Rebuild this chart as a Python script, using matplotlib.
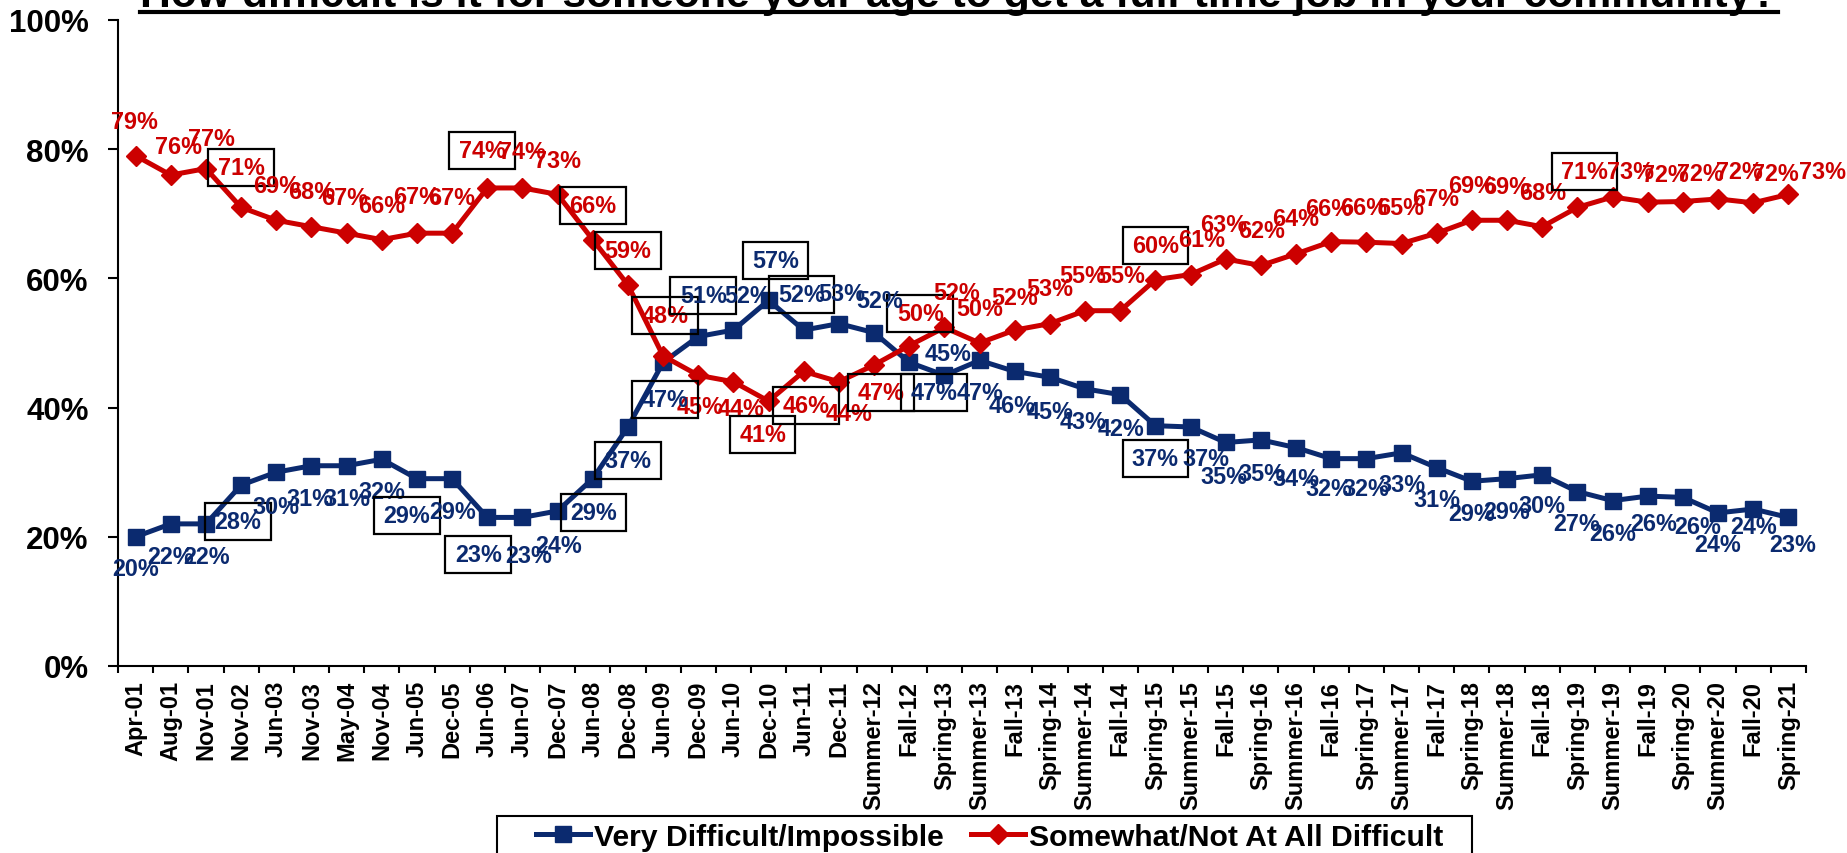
import numpy as np
import matplotlib
matplotlib.use("Agg")
import matplotlib.pyplot as plt
from matplotlib.lines import Line2D
from matplotlib.patches import Rectangle

# ---------------- data ----------------
categories = ["Apr-01", "Aug-01", "Nov-01", "Nov-02", "Jun-03", "Nov-03", "May-04", "Nov-04",
              "Jun-05", "Dec-05", "Jun-06", "Jun-07", "Dec-07", "Jun-08", "Dec-08", "Jun-09",
              "Dec-09", "Jun-10", "Dec-10", "Jun-11", "Dec-11", "Summer-12", "Fall-12", "Spring-13",
              "Summer-13", "Fall-13", "Spring-14", "Summer-14", "Fall-14", "Spring-15", "Summer-15",
              "Fall-15", "Spring-16", "Summer-16", "Fall-16", "Spring-17", "Summer-17", "Fall-17",
              "Spring-18", "Summer-18", "Fall-18", "Spring-19", "Summer-19", "Fall-19", "Spring-20",
              "Summer-20", "Fall-20", "Spring-21"]

very_difficult = [20, 22, 22, 28, 30, 31, 31, 32, 29, 29, 23, 23, 24, 29, 37, 47,
                  51, 52, 56.6, 52, 53, 51.6, 47, 45, 47.3, 45.6, 44.7, 42.9, 42, 37.2, 37,
                  34.6, 35, 33.8, 32.1, 32.1, 33, 30.7, 28.6, 29, 29.6, 27, 25.6, 26.3, 26.1,
                  23.7, 24.3, 23]

somewhat_not = [79, 76, 77, 71, 69, 68, 67, 66, 67, 67, 74, 74, 73, 66, 59, 48,
                45, 44, 41, 45.6, 44, 46.6, 49.6, 52.4, 50, 52, 53, 55, 55, 59.8, 60.6,
                63, 62, 63.8, 65.7, 65.6, 65.4, 67, 69, 69, 68, 71, 72.6, 71.8, 71.9,
                72.3, 71.7, 73]

series_names = ["Very Difficult/Impossible", "Somewhat/Not At All Difficult"]
title_text = "How difficult is it for someone your age to get a full-time job in your community?"
y_ticks = [0, 20, 40, 60, 80, 100]

# ---------------- label styling (offsets in pixels: dx right, dy down) ----------------
red_offsets = [(-1, -34), (8, -29), (6, -30), (0, -40), (0, -35), (0, -35), (-2, -36), (0, -34),
               (0, -37), (0, -36), (-5, -37), (0, -36), (0, -34), (0, -34), (0, -34), (2, -40),
               (2, 31), (8, 27), (-6, 33), (2, 34), (10, 32), (7, 28), (11, -32), (12, -35),
               (0, -34), (0, -33), (0, -35), (-2, -35), (1, -35), (0, -34), (11, -35), (-2, -35),
               (1, -35), (0, -35), (-3, -33), (-3, -35), (-1, -36), (-1, -35), (0, -35), (0, -34),
               (0, -34), (7, -36), (18, -26), (18, -28), (17, -28), (21, -27), (22, -29), (34, -23)]
blue_offsets = [(0, 32), (0, 33), (1, 33), (-3, 36), (0, 34), (-1, 33), (0, 33), (0, 32),
                (-10, 37), (1, 33), (-9, 37), (6, 38), (1, 35), (1, 34), (0, 34), (2, 37),
                (5, -41), (14, -35), (7, -40), (-2, -36), (3, -30), (6, -32), (25, 30), (4, -22),
                (0, 32), (-3, 34), (0, 34), (-2, 33), (1, 34), (0, 33), (15, 32), (-2, 34),
                (1, 34), (0, 31), (-2, 30), (-1, 30), (0, 32), (0, 32), (0, 32), (0, 33),
                (0, 31), (-1, 32), (0, 33), (6, 27), (15, 29), (0, 32), (0, 17), (4, 27)]
red_boxed = {3, 10, 13, 14, 15, 18, 19, 21, 22, 29, 41}
blue_boxed = {3, 8, 10, 13, 14, 15, 16, 18, 19, 22, 29}

BLUE = "#0b2a6f"
RED = "#cc0000"

W, H = 1847, 854
plt.rcParams["font.family"] = ["Liberation Sans", "DejaVu Sans"]
plt.rcParams["font.weight"] = "bold"

fig = plt.figure(figsize=(W / 100, H / 100), dpi=100)
ax = fig.add_axes([118 / W, 1 - 667 / H, (1806 - 118) / W, (667 - 21) / H])

x = np.arange(len(categories))
ax.plot(x, very_difficult, color=BLUE, lw=3.6, marker="s", ms=11, zorder=3)
ax.plot(x, somewhat_not, color=RED, lw=3.6, marker="D", ms=10, zorder=4)

ax.set_xlim(-0.5, len(categories) - 0.5)
ax.set_ylim(0, 100)

for s in ["top", "right"]:
    ax.spines[s].set_visible(False)
for s in ["left", "bottom"]:
    ax.spines[s].set_linewidth(1.5)
    ax.spines[s].set_color("black")

ax.set_yticks(y_ticks)
ax.set_yticklabels([f"{t}%" for t in y_ticks])
ax.tick_params(axis="y", length=7.2, width=1.5, pad=14, labelsize=22.5)

ax.set_xticks(x)
ax.set_xticklabels(categories, rotation=90, fontsize=17)
ax.tick_params(axis="x", which="major", length=0, pad=10)
ax.set_xticks(np.arange(-0.5, len(categories), 1), minor=True)
ax.tick_params(axis="x", which="minor", length=5, width=1.5, direction="out")


def label_series(vals, offsets, boxed, color):
    for i, v in enumerate(vals):
        dx, dy = offsets[i]
        bbox = None
        if i in boxed:
            bbox = dict(boxstyle="square,pad=0.4", mutation_aspect=0.75,
                        fc="none", ec="black", lw=1.6)
        ax.annotate(f"{v:.0f}%", (i, v), xytext=(dx, -dy), textcoords="offset pixels",
                    ha="center", va="center", fontsize=16.8, fontweight="bold",
                    color=color, bbox=bbox, zorder=6, annotation_clip=False)


label_series(somewhat_not, red_offsets, red_boxed, RED)
label_series(very_difficult, blue_offsets, blue_boxed, BLUE)

# ---------------- title (clipped at top, underlined) ----------------
t = fig.text(959 / W, 1 - 7 / H, title_text, ha="center", va="baseline",
             fontsize=20, fontweight="bold", color="black")
renderer = fig.canvas.get_renderer()
w0 = t.get_window_extent(renderer).width
t.set_fontsize(20 * 1638 / w0)
bb = t.get_window_extent(renderer)
fig.add_artist(Line2D([bb.x0 / W, bb.x1 / W], [1 - 12.5 / H] * 2,
                      transform=fig.transFigure, color="black", lw=3))

# ---------------- legend ----------------
handles = [Line2D([], [], color=BLUE, lw=3.6, marker="s", ms=11),
           Line2D([], [], color=RED, lw=3.6, marker="D", ms=10)]
fig.legend(handles, series_names, loc="center left", bbox_to_anchor=(536 / W, 1 - 838 / H),
           ncol=2, frameon=False, prop={"weight": "bold", "size": 21.7},
           handlelength=1.8, handletextpad=0.13, columnspacing=0.9,
           borderpad=0, borderaxespad=0)
fig.add_artist(Rectangle((497 / W, -0.1), (1472 - 497) / W, (1 - 817 / H) + 0.1,
                         transform=fig.transFigure, fill=False, ec="black", lw=1.5))

fig.savefig("out.png", dpi=100)
